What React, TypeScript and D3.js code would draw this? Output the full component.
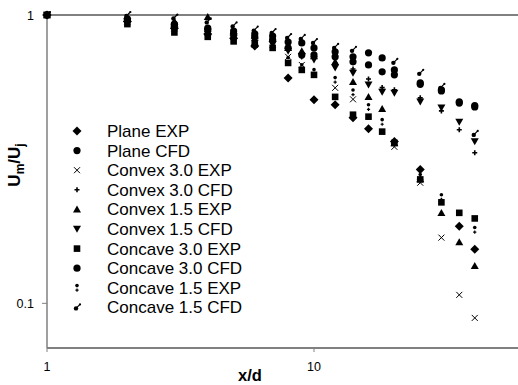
import { useEffect, useRef } from 'react'
import * as d3 from 'd3'

// x/d stations and Um/Uj values, one pair of arrays per series
const PLANE_EXP_X = [1, 2, 3, 4, 5, 6, 8, 10, 12, 14, 16, 20, 25, 35, 40]
const PLANE_EXP_Y = [1, 0.95, 0.9, 0.86, 0.83, 0.78, 0.605, 0.508, 0.488, 0.44, 0.403, 0.364, 0.291, 0.185, 0.154]

const PLANE_CFD_X = [1, 2, 3, 4, 5, 6, 7, 8, 9, 10, 12, 14, 16, 18, 20, 25, 30, 35, 40]
const PLANE_CFD_Y = [1, 0.97, 0.93, 0.9, 0.88, 0.86, 0.845, 0.806, 0.8, 0.769, 0.745, 0.716, 0.739, 0.71, 0.645, 0.582, 0.55, 0.5, 0.485]

const CVX30_EXP_X = [1, 2, 3, 4, 5, 6, 7, 8, 9, 12, 14, 20, 25, 30, 35, 40]
const CVX30_EXP_Y = [1, 0.95, 0.9, 0.87, 0.84, 0.81, 0.79, 0.716, 0.671, 0.559, 0.51, 0.349, 0.262, 0.169, 0.107, 0.089]

const CVX30_CFD_X = [1, 2, 3, 4, 5, 6, 7, 8, 9, 10, 12, 14, 16, 18, 20, 25, 30, 35, 40]
const CVX30_CFD_Y = [1, 0.96, 0.91, 0.88, 0.85, 0.82, 0.8, 0.77, 0.74, 0.72, 0.68, 0.65, 0.6, 0.56, 0.55, 0.516, 0.465, 0.4, 0.333]

const CVX15_EXP_X = [1, 2, 3, 4, 5, 6, 7, 8, 9, 10, 12, 14, 16, 18, 20, 25, 30, 35, 40]
const CVX15_EXP_Y = [1, 0.97, 0.95, 0.985, 0.88, 0.85, 0.83, 0.77, 0.75, 0.72, 0.688, 0.586, 0.52, 0.473, 0.36, 0.27, 0.206, 0.163, 0.135]

const CVX15_CFD_X = [1, 2, 3, 4, 5, 6, 7, 8, 9, 10, 12, 14, 16, 18, 20, 25, 30, 35, 40]
const CVX15_CFD_Y = [1, 0.95, 0.89, 0.86, 0.83, 0.8, 0.79, 0.75, 0.72, 0.7, 0.656, 0.63, 0.573, 0.541, 0.537, 0.5, 0.477, 0.426, 0.364]

const CCV30_EXP_X = [1, 2, 3, 4, 5, 6, 7, 8, 9, 10, 12, 14, 16, 18, 20, 25, 30, 35, 40]
const CCV30_EXP_Y = [1, 0.93, 0.87, 0.84, 0.81, 0.79, 0.769, 0.682, 0.645, 0.62, 0.52, 0.451, 0.444, 0.394, 0.36, 0.269, 0.224, 0.206, 0.197]

const CCV30_CFD_X = [1, 2, 3, 4, 5, 6, 7, 8, 9, 10, 12, 14, 16, 18, 20, 25, 30, 35, 40]
const CCV30_CFD_Y = [1, 0.96, 0.92, 0.89, 0.86, 0.84, 0.82, 0.769, 0.727, 0.727, 0.716, 0.688, 0.671, 0.635, 0.62, 0.575, 0.545, 0.495, 0.48]

const CCV15_EXP_X = [1, 2, 3, 4, 5, 6, 7, 8, 9, 10, 12, 14, 16, 18, 25, 30, 40]
const CCV15_EXP_Y = [1, 0.95, 0.9, 0.87, 0.84, 0.82, 0.8, 0.7, 0.66, 0.635, 0.596, 0.54, 0.48, 0.426, 0.275, 0.234, 0.18]

const CCV15_CFD_X = [1, 2, 3, 4, 5, 6, 7, 8, 9, 10, 12, 14, 20, 25, 30, 40]
const CCV15_CFD_Y = [1, 1, 0.98, 0.95, 0.92, 0.89, 0.873, 0.839, 0.833, 0.806, 0.775, 0.757, 0.688, 0.63, 0.563, 0.387]

type Marker = 'diamond' | 'circle' | 'cross' | 'plus' | 'tri' | 'triDown' | 'square' | 'dotPlus' | 'tail'

const SERIES: { name: string; marker: Marker; xs: number[]; ys: number[] }[] = [
  { name: 'Plane EXP', marker: 'diamond', xs: PLANE_EXP_X, ys: PLANE_EXP_Y },
  { name: 'Plane CFD', marker: 'circle', xs: PLANE_CFD_X, ys: PLANE_CFD_Y },
  { name: 'Convex 3.0 EXP', marker: 'cross', xs: CVX30_EXP_X, ys: CVX30_EXP_Y },
  { name: 'Convex 3.0 CFD', marker: 'plus', xs: CVX30_CFD_X, ys: CVX30_CFD_Y },
  { name: 'Convex 1.5 EXP', marker: 'tri', xs: CVX15_EXP_X, ys: CVX15_EXP_Y },
  { name: 'Convex 1.5 CFD', marker: 'triDown', xs: CVX15_CFD_X, ys: CVX15_CFD_Y },
  { name: 'Concave 3.0 EXP', marker: 'square', xs: CCV30_EXP_X, ys: CCV30_EXP_Y },
  { name: 'Concave 3.0 CFD', marker: 'circle', xs: CCV30_CFD_X, ys: CCV30_CFD_Y },
  { name: 'Concave 1.5 EXP', marker: 'dotPlus', xs: CCV15_EXP_X, ys: CCV15_EXP_Y },
  { name: 'Concave 1.5 CFD', marker: 'tail', xs: CCV15_CFD_X, ys: CCV15_CFD_Y },
]

const X_TICKS = [1, 10]
const Y_TICKS = [0.1, 1]

const FONT = '"Liberation Sans", Arial, sans-serif'
const AXIS = '#808080'

function drawMarker(g: d3.Selection<SVGGElement, unknown, null, undefined>, m: Marker) {
  switch (m) {
    case 'diamond':
      g.append('path').attr('d', 'M0,-4.5L4.5,0L0,4.5L-4.5,0Z').attr('fill', '#000')
      break
    case 'circle':
      g.append('circle').attr('r', 3.6).attr('fill', '#000')
      break
    case 'square':
      g.append('rect').attr('x', -3.3).attr('y', -3.3).attr('width', 6.6).attr('height', 6.6).attr('fill', '#000')
      break
    case 'tri':
      g.append('path').attr('d', 'M0,-3.8L4,3.2L-4,3.2Z').attr('fill', '#000')
      break
    case 'triDown':
      g.append('path').attr('d', 'M0,3.8L4,-3.2L-4,-3.2Z').attr('fill', '#000')
      break
    case 'cross':
      g.append('path').attr('d', 'M-3,-3L3,3M-3,3L3,-3').attr('stroke', '#000').attr('stroke-width', 1).attr('fill', 'none')
      break
    case 'plus':
      g.append('path').attr('d', 'M-2.5,0L2.5,0M0,-2.5L0,2.5').attr('stroke', '#000').attr('stroke-width', 1.6).attr('fill', 'none')
      break
    case 'dotPlus':
      g.append('circle').attr('cy', -2.2).attr('r', 1.8).attr('fill', '#000')
      g.append('path').attr('d', 'M-1.6,2.4L1.6,2.4M0,0.8L0,4').attr('stroke', '#000').attr('stroke-width', 1.2).attr('fill', 'none')
      break
    case 'tail':
      g.append('circle').attr('cx', -1).attr('cy', 1).attr('r', 2.2).attr('fill', '#000')
      g.append('path').attr('d', 'M-1,1L3,-3').attr('stroke', '#000').attr('stroke-width', 1.2)
      g.append('circle').attr('cx', 3).attr('cy', -3).attr('r', 1.1).attr('fill', '#000')
      break
  }
}

export default function App() {
  const svgRef = useRef<SVGSVGElement>(null)

  useEffect(() => {
    document.body.style.margin = '0'
    const svgEl = svgRef.current
    if (!svgEl) return
    const W = 518
    const H = 385
    const svg = d3.select(svgEl)
    svg.selectAll('*').remove()
    svg.attr('width', W).attr('height', H)

    const left = 47
    const top = 15
    const bottom = 348
    const decade = 267

    const x = d3.scaleLog().domain([1, 100]).range([left, left + 2 * decade])
    const y = d3.scaleLog().domain([0.07, 1]).range([bottom, top])

    svg.append('rect').attr('width', W).attr('height', H).attr('fill', '#fff')

    // axes lines
    svg.append('line').attr('x1', left).attr('x2', W).attr('y1', top).attr('y2', top)
      .attr('stroke', AXIS).attr('stroke-width', 2)
    svg.append('line').attr('x1', left).attr('x2', W).attr('y1', bottom).attr('y2', bottom)
      .attr('stroke', AXIS).attr('stroke-width', 2)
    svg.append('line').attr('x1', left).attr('x2', left).attr('y1', top).attr('y2', bottom)
      .attr('stroke', AXIS).attr('stroke-width', 1.5)

    X_TICKS.forEach(t => {
      svg.append('line').attr('x1', x(t)).attr('x2', x(t)).attr('y1', bottom).attr('y2', bottom + 4)
        .attr('stroke', AXIS).attr('stroke-width', 1)
      svg.append('text').attr('x', x(t)).attr('y', bottom + 23).attr('text-anchor', 'middle')
        .attr('font-family', FONT).attr('font-size', 12.5).attr('fill', '#000').text(String(t))
    })
    Y_TICKS.forEach(t => {
      svg.append('line').attr('x1', left - 5).attr('x2', left).attr('y1', y(t)).attr('y2', y(t))
        .attr('stroke', AXIS).attr('stroke-width', 1)
      svg.append('text').attr('x', left - 13).attr('y', y(t) + 4.5).attr('text-anchor', 'end')
        .attr('font-family', FONT).attr('font-size', 12.5).attr('fill', '#000').text(String(t))
    })

    // axis titles
    svg.append('text').attr('x', 250).attr('y', 381).attr('text-anchor', 'middle')
      .attr('font-family', FONT).attr('font-size', 16.5).attr('font-weight', 700).text('x/d')
    const yt = svg.append('text').attr('transform', 'translate(20,165) rotate(-90)')
      .attr('text-anchor', 'middle').attr('font-family', FONT).attr('font-size', 17).attr('font-weight', 700)
    yt.append('tspan').text('U')
    yt.append('tspan').attr('font-size', 12).attr('dy', 4).text('m')
    yt.append('tspan').attr('dy', -4).text('/U')
    yt.append('tspan').attr('font-size', 12).attr('dy', 4).text('j')

    // data markers
    SERIES.forEach(s => {
      s.xs.forEach((xv, i) => {
        const g = svg.append('g').attr('transform', `translate(${x(xv)},${y(s.ys[i])})`)
        drawMarker(g, s.marker)
      })
    })

    // legend
    SERIES.forEach((s, i) => {
      const cy = 131 + i * 19.6
      const g = svg.append('g').attr('transform', `translate(77,${cy})`)
      drawMarker(g, s.marker)
      svg.append('text').attr('x', 107).attr('y', cy + 6).attr('font-family', FONT)
        .attr('font-size', 17).attr('fill', '#000').text(s.name)
    })
  }, [])

  return <svg ref={svgRef} style={{ display: 'block' }} />
}
